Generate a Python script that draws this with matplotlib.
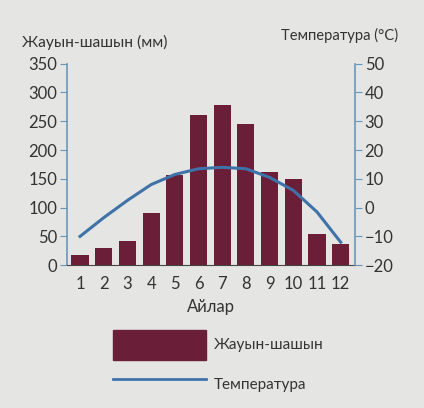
import matplotlib.pyplot as plt
from matplotlib.patches import Patch
from matplotlib.lines import Line2D

plt.rcParams['font.family'] = ['Lato', 'DejaVu Sans']

# Monthly climate data
months = [1, 2, 3, 4, 5, 6, 7, 8, 9, 10, 11, 12]
precip_mm = [18, 30, 42, 90, 157, 260, 278, 245, 162, 150, 55, 37]
temp_c = [-10, -3.5, 2.5, 8, 11.5, 13.5, 14, 13.5, 10.5, 6, -1.5, -12]

bg = '#e5e5e3'
bar_col = '#6b1e38'
line_col = '#3f72a8'
spine_col = '#6a97b8'
txt = '#333333'

fig = plt.figure(figsize=(4.24, 4.08), dpi=100, facecolor=bg)
ax1 = fig.add_axes([0.158, 0.35, 0.679, 0.494])
ax1.set_facecolor(bg)
ax2 = ax1.twinx()

ax1.bar(months, precip_mm, width=0.72, color=bar_col, zorder=2)
ax2.plot(months, temp_c, color=line_col, lw=2.2, zorder=3)

ax1.set_xlim(0.45, 12.6)
ax1.set_ylim(0, 350)
ax2.set_ylim(-20, 50)
ax1.set_yticks(range(0, 351, 50))
ax2.set_yticks(range(-20, 51, 10))
ax1.set_xticks(months)

for s in ['top', 'right']:
    ax1.spines[s].set_visible(False)
for s in ['top', 'left', 'bottom']:
    ax2.spines[s].set_visible(False)
ax1.spines['left'].set_color(spine_col)
ax2.spines['right'].set_color(spine_col)
ax1.spines['bottom'].set_color('#444444')
ax1.spines['left'].set_linewidth(1.2)
ax2.spines['right'].set_linewidth(1.2)

ax1.tick_params(axis='y', colors=spine_col, labelcolor=txt, labelsize=12, length=5, pad=2)
ax2.tick_params(axis='y', colors=spine_col, labelcolor=txt, labelsize=12, length=5, pad=2)
ax1.tick_params(axis='x', length=0, labelsize=12, labelcolor=txt, pad=8)

ax1.set_xlabel('Айлар', fontsize=12, color=txt, labelpad=5)
fig.text(0.052, 0.885, 'Жауын-шашын (мм)', fontsize=11.2, color=txt)
fig.text(0.663, 0.902, 'Температура (°C)', fontsize=10.6, color=txt)

handles = [Patch(facecolor=bar_col, edgecolor=bar_col),
           Line2D([0], [0], color=line_col, lw=2)]
fig.legend(handles, ['Жауын-шашын', 'Температура'], loc='upper left',
           bbox_to_anchor=(0.233, 0.225), frameon=False, fontsize=11,
           handlelength=6.1, handleheight=2.6, labelspacing=0.65,
           handletextpad=0.5, labelcolor=txt)

fig.savefig('out.png', dpi=100, facecolor=bg)
